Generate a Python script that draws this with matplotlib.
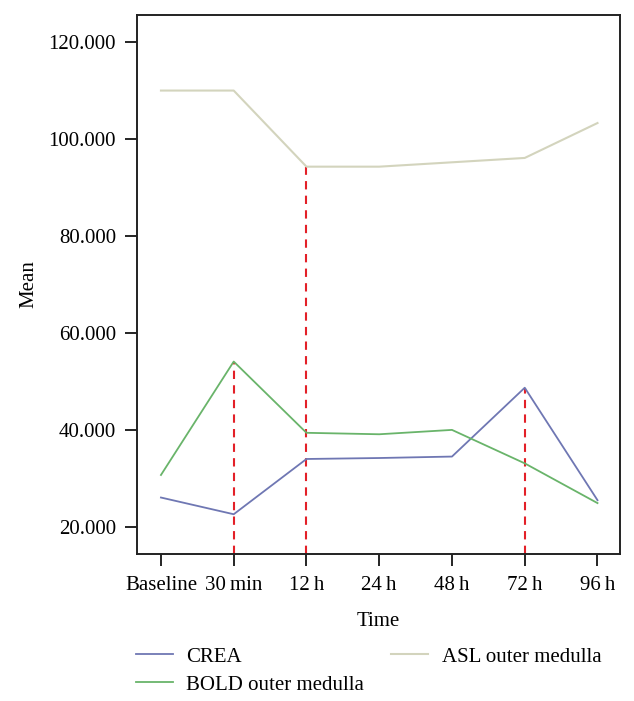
import matplotlib
matplotlib.use("Agg")
import matplotlib.pyplot as plt

categories = ["Baseline", "30\u2009min", "12\u2009h", "24\u2009h", "48\u2009h", "72\u2009h", "96\u2009h"]
crea = [26.05, 22.6, 34.0, 34.2, 34.5, 48.7, 25.5]
bold = [30.7, 54.1, 39.4, 39.1, 40.0, 33.1, 24.9]
asl = [110.0, 110.0, 94.3, 94.3, 95.2, 96.1, 103.3]
yticks = [20, 40, 60, 80, 100, 120]
ytick_labels = ["20.000", "40.000", "60.000", "80.000", "100.000", "120.000"]
# dashed markers: (category index, value to reach)
marks_idx = [1, 2, 5]
marks_val = [bold[1], asl[2], crea[5]]

plt.rcParams['font.family'] = ['Liberation Serif', 'DejaVu Serif']
FS = 15

fig = plt.figure(figsize=(6.34, 7.01), dpi=100)
ax = fig.add_axes([0.216, 0.2097, 0.762, 0.769])

x = list(range(len(categories)))
ymin, ymax = 14.4, 125.6
ax.vlines(marks_idx, ymin, marks_val, colors="#e32028", linestyles=(0, (4, 3)), lw=1.5, zorder=1)
l1, = ax.plot(x, crea, color="#6f77b3", lw=1.3, label="CREA", zorder=2)
l2, = ax.plot(x, bold, color="#69b46a", lw=1.3, label="BOLD outer medulla", zorder=2)
l3, = ax.plot(x, asl, color="#d3d4bd", lw=1.5, label="ASL outer medulla", zorder=2)

ax.set_xlim(-0.33, 6.31)
ax.set_ylim(ymin, ymax)
ax.set_xticks(x)
ax.set_xticklabels(categories, fontsize=FS)
ax.set_yticks(yticks)
ax.set_yticklabels(ytick_labels, fontsize=FS)
ax.tick_params(axis="x", direction="out", length=8.6, width=1.2, pad=7.5)
ax.tick_params(axis="y", direction="out", length=8.6, width=1.2, pad=6.5)
for s in ax.spines.values():
    s.set_linewidth(1.4)
    s.set_color("#222222")
ax.set_xlabel("Time", fontsize=FS, labelpad=12)
ax.set_ylabel("Mean", fontsize=FS, labelpad=7)

fig.legend(handles=[l1, l2, l3], ncol=2, frameon=False, fontsize=FS,
           loc="upper left", bbox_to_anchor=(0.201, 0.0887),
           handlelength=1.8, handletextpad=0.63, columnspacing=1.28,
           labelspacing=0.4, borderaxespad=0)

fig.savefig("out.png", dpi=100)
